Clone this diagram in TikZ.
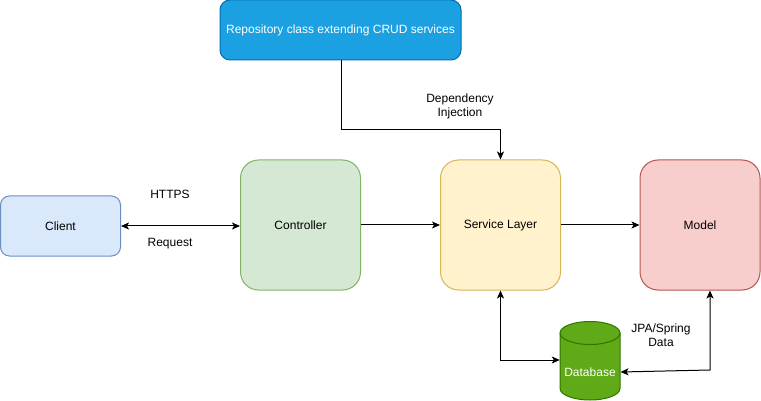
\documentclass[tikz,border=0pt]{standalone}
\usepackage{fontspec}
\setmainfont{Liberation Sans}
\usetikzlibrary{arrows.meta,calc}
\definecolor{repofill}{HTML}{1BA1E2}
\definecolor{repodraw}{HTML}{006EAF}
\definecolor{clifill}{HTML}{DAE8FC}
\definecolor{clidraw}{HTML}{6C8EBF}
\definecolor{ctlfill}{HTML}{D5E8D4}
\definecolor{ctldraw}{HTML}{82B366}
\definecolor{svcfill}{HTML}{FFF2CC}
\definecolor{svcdraw}{HTML}{D6B656}
\definecolor{mdlfill}{HTML}{F8CECC}
\definecolor{mdldraw}{HTML}{B85450}
\definecolor{dbfill}{HTML}{60A917}
\definecolor{dbdraw}{HTML}{2D7600}
\begin{document}
\begin{tikzpicture}[x=1pt,y=1pt,
  every node/.style={font=\fontsize{12}{14}\selectfont, inner sep=0pt},
  box/.style={draw, line width=1pt, align=center},
  bigbox/.style={box, minimum width=120pt, minimum height=130pt, rounded corners=18pt},
  lbl/.style={align=center, font=\fontsize{12}{14}\selectfont},
  conn/.style={line width=1pt, -{Stealth[length=8pt,width=7pt,inset=2pt]}},
  conn2/.style={line width=1pt, {Stealth[length=8pt,width=7pt,inset=2pt]}-{Stealth[length=8pt,width=7pt,inset=2pt]}}
]
\useasboundingbox (0,0) rectangle (761,-401);

\node[box, fill=repofill, draw=repodraw, text=white, minimum width=241pt, minimum height=60pt, rounded corners=10pt] (repo) at (340.5,-30) {Repository class extending CRUD services};
\node[box, fill=clifill, draw=clidraw, minimum width=120pt, minimum height=60pt, rounded corners=9pt] (client) at (60.5,-226) {Client};
\node[bigbox, fill=ctlfill, draw=ctldraw] (ctl) at (300.5,-225) {Controller};
\node[bigbox, fill=svcfill, draw=svcdraw] (svc) at (500.5,-225) {Service Layer};
\node[bigbox, fill=mdlfill, draw=mdldraw] (mdl) at (700,-225) {Model};

% database cylinder
\filldraw[fill=dbfill, draw=dbdraw, line width=1pt]
  (560,-333) -- (560,-388.5) arc[start angle=180, end angle=360, x radius=30, y radius=11.5]
  -- (620,-333) arc[start angle=0, end angle=180, x radius=30, y radius=11.5] -- cycle;
\draw[dbdraw, line width=1pt] (560,-333) arc[start angle=180, end angle=360, x radius=30, y radius=11.5];
\node[minimum width=60pt, minimum height=80pt] (db) at (590,-360) {};
\node[text=white] (dbtext) at (590,-372) {Database};
\coordinate (dbr) at (620.5,-372);
\coordinate (jpa) at (710,-370);
\coordinate (di) at (341,-130);

% connectors
\draw[conn2] (client.east) -- (ctl.west |- client.east);
\draw[conn] (ctl.east) -- (svc.west);
\draw[conn] (svc.east) -- (mdl.west);
\draw[conn] (repo.south -| di) -- (di) -| (svc.north);
\draw[conn2] (svc.south) |- (db.west);
\draw[conn2] (dbr) -- (jpa) -- (jpa |- mdl.south);

% labels
\node[lbl] (https) at (170,-194) {HTTPS};
\node[lbl] (req) at (170,-244) {Request};
\node[lbl] (dilbl) at (460,-106) {Dependency\\Injection};
\node[lbl] (jpalbl) at (661,-335) {JPA/Spring\\Data};
\end{tikzpicture}
\end{document}
